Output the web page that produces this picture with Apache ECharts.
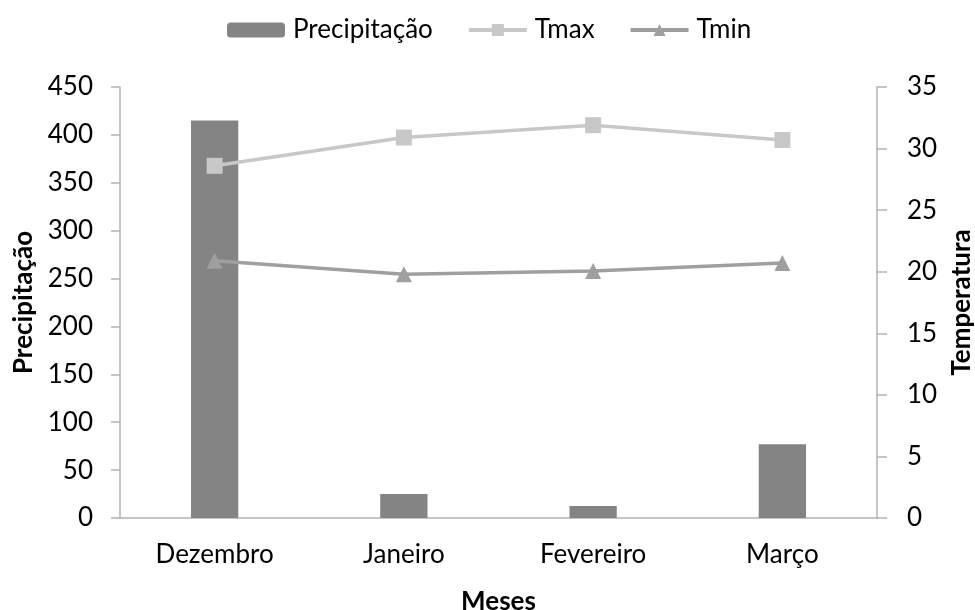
<!DOCTYPE html>
<html><head><meta charset="utf-8">
<script src="https://cdn.jsdelivr.net/npm/echarts@6/dist/echarts.min.js"></script>
<style>html,body{margin:0;padding:0;background:#fff}#c{width:975px;height:610px}</style>
</head><body><div id="c"></div>
<script>
const categories = ['Dezembro', 'Janeiro', 'Fevereiro', 'Março'];
const precipitacao = [415, 25, 12.5, 77];
const tmax = [28.6, 30.9, 31.9, 30.7];
const tmin = [20.9, 19.8, 20.05, 20.7];
const precTicks = [0, 450, 50];
const tempTicks = [0, 35, 5];

const FONT = 'Lato';
const FS = 26;
const chart = echarts.init(document.getElementById('c'));
const axisColor = '#b3b3b3';
chart.setOption({
  animation: false,
  textStyle: { fontFamily: FONT },
  legend: {
    top: 12, left: 222,
    itemWidth: 58, itemHeight: 15, itemGap: 34,
    lineStyle: { width: 4 },
    textStyle: { fontSize: FS, color: '#000', fontFamily: FONT, padding: [0, 0, 0, 3] },
    data: ['Precipitação', 'Tmax', 'Tmin']
  },
  grid: { left: 120, right: 98, top: 87, bottom: 92, outerBoundsMode: 'none' },
  xAxis: {
    type: 'category', data: categories,
    name: 'Meses', nameLocation: 'middle', nameGap: 71,
    nameTextStyle: { fontSize: FS, fontWeight: 'bold', color: '#000', fontFamily: FONT },
    axisLine: { lineStyle: { color: axisColor, width: 1.5 } },
    axisTick: { show: false },
    axisLabel: { fontSize: FS, color: '#000', margin: 24, fontFamily: FONT }
  },
  yAxis: [{
    type: 'value', min: precTicks[0], max: precTicks[1], interval: precTicks[2],
    name: 'Precipitação', nameLocation: 'middle', nameGap: 77, nameRotate: 90,
    nameTextStyle: { fontSize: FS, fontWeight: 'bold', color: '#000', fontFamily: FONT },
    axisLine: { show: true, lineStyle: { color: axisColor, width: 1.5 } },
    axisTick: { show: true, length: 9, lineStyle: { color: axisColor, width: 1.5 } },
    splitLine: { show: false },
    axisLabel: { fontSize: FS, color: '#000', margin: 27, fontFamily: FONT }
  }, {
    type: 'value', min: tempTicks[0], max: tempTicks[1], interval: tempTicks[2],
    position: 'right',
    name: 'Temperatura', nameLocation: 'middle', nameGap: 72, nameRotate: 90,
    nameTextStyle: { fontSize: FS, fontWeight: 'bold', color: '#000', fontFamily: FONT },
    axisLine: { show: true, lineStyle: { color: axisColor, width: 1.5 } },
    axisTick: { show: true, length: 10, lineStyle: { color: axisColor, width: 1.5 } },
    splitLine: { show: false },
    axisLabel: { fontSize: FS, color: '#000', margin: 30, fontFamily: FONT }
  }],
  series: [{
    name: 'Precipitação', type: 'bar', data: precipitacao, yAxisIndex: 0,
    barWidth: '25%', itemStyle: { color: '#848484' }
  }, {
    name: 'Tmax', type: 'line', data: tmax, yAxisIndex: 1,
    symbol: 'rect', symbolSize: 16,
    lineStyle: { color: '#c8c8c8', width: 3.5 }, itemStyle: { color: '#c8c8c8' }
  }, {
    name: 'Tmin', type: 'line', data: tmin, yAxisIndex: 1,
    symbol: 'triangle', symbolSize: 16,
    lineStyle: { color: '#9f9f9f', width: 3.5 }, itemStyle: { color: '#9f9f9f' }
  }]
});
</script></body></html>
